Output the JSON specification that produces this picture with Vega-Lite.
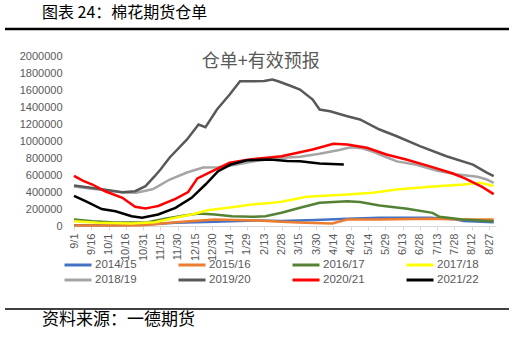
{
  "$schema": "https://vega.github.io/schema/vega-lite/v6.json",
  "width": 422,
  "height": 170,
  "autosize": {"type": "none"},
  "padding": {"left": 74, "top": 56, "right": 17, "bottom": 115},
  "background": "white",
  "config": {"view": {"stroke": null}, "font": "Liberation Sans"},
  "layer": [
    {
      "data": {"values": [{"part": "header"}]},
      "mark": {"type": "rule", "color": "#000000", "strokeWidth": 2.5},
      "encoding": {"x": {"value": -69}, "x2": {"value": 435}, "y": {"value": -27}}
    },
    {
      "data": {"values": [{"part": "footer"}]},
      "mark": {"type": "rule", "color": "#000000", "strokeWidth": 1.5},
      "encoding": {"x": {"value": -69}, "x2": {"value": 435}, "y": {"value": 253}, "y2": {"value": 253}}
    },
    {
      "data": {
        "values": [
          {"season": "2014/15", "day": 0, "value": 10000},
          {"season": "2014/15", "day": 30, "value": 10000},
          {"season": "2014/15", "day": 60, "value": 15000},
          {"season": "2014/15", "day": 88, "value": 38000},
          {"season": "2014/15", "day": 122, "value": 50000},
          {"season": "2014/15", "day": 160, "value": 65000},
          {"season": "2014/15", "day": 180, "value": 60000},
          {"season": "2014/15", "day": 210, "value": 70000},
          {"season": "2014/15", "day": 237, "value": 85000},
          {"season": "2014/15", "day": 265, "value": 96000},
          {"season": "2014/15", "day": 309, "value": 96000},
          {"season": "2014/15", "day": 330, "value": 80000},
          {"season": "2014/15", "day": 338, "value": 60000},
          {"season": "2014/15", "day": 364, "value": 45000},

          {"season": "2015/16", "day": 0, "value": 5000},
          {"season": "2015/16", "day": 30, "value": 5000},
          {"season": "2015/16", "day": 60, "value": 10000},
          {"season": "2015/16", "day": 88, "value": 45000},
          {"season": "2015/16", "day": 122, "value": 76000},
          {"season": "2015/16", "day": 160, "value": 65000},
          {"season": "2015/16", "day": 180, "value": 50000},
          {"season": "2015/16", "day": 200, "value": 38000},
          {"season": "2015/16", "day": 224, "value": 29000},
          {"season": "2015/16", "day": 237, "value": 76000},
          {"season": "2015/16", "day": 265, "value": 76000},
          {"season": "2015/16", "day": 309, "value": 85000},
          {"season": "2015/16", "day": 338, "value": 76000},
          {"season": "2015/16", "day": 364, "value": 76000},

          {"season": "2016/17", "day": 0, "value": 76000},
          {"season": "2016/17", "day": 16, "value": 56000},
          {"season": "2016/17", "day": 36, "value": 40000},
          {"season": "2016/17", "day": 64, "value": 45000},
          {"season": "2016/17", "day": 79, "value": 85000},
          {"season": "2016/17", "day": 96, "value": 124000},
          {"season": "2016/17", "day": 108, "value": 147000},
          {"season": "2016/17", "day": 122, "value": 135000},
          {"season": "2016/17", "day": 137, "value": 115000},
          {"season": "2016/17", "day": 154, "value": 108000},
          {"season": "2016/17", "day": 166, "value": 115000},
          {"season": "2016/17", "day": 180, "value": 155000},
          {"season": "2016/17", "day": 196, "value": 214000},
          {"season": "2016/17", "day": 213, "value": 273000},
          {"season": "2016/17", "day": 237, "value": 292000},
          {"season": "2016/17", "day": 248, "value": 282000},
          {"season": "2016/17", "day": 265, "value": 241000},
          {"season": "2016/17", "day": 289, "value": 202000},
          {"season": "2016/17", "day": 311, "value": 155000},
          {"season": "2016/17", "day": 317, "value": 108000},
          {"season": "2016/17", "day": 337, "value": 76000},
          {"season": "2016/17", "day": 364, "value": 56000},

          {"season": "2017/18", "day": 0, "value": 56000},
          {"season": "2017/18", "day": 21, "value": 38000},
          {"season": "2017/18", "day": 50, "value": 29000},
          {"season": "2017/18", "day": 70, "value": 45000},
          {"season": "2017/18", "day": 88, "value": 96000},
          {"season": "2017/18", "day": 102, "value": 135000},
          {"season": "2017/18", "day": 116, "value": 186000},
          {"season": "2017/18", "day": 137, "value": 221000},
          {"season": "2017/18", "day": 154, "value": 253000},
          {"season": "2017/18", "day": 172, "value": 273000},
          {"season": "2017/18", "day": 180, "value": 285000},
          {"season": "2017/18", "day": 202, "value": 343000},
          {"season": "2017/18", "day": 237, "value": 371000},
          {"season": "2017/18", "day": 259, "value": 390000},
          {"season": "2017/18", "day": 280, "value": 429000},
          {"season": "2017/18", "day": 309, "value": 461000},
          {"season": "2017/18", "day": 338, "value": 488000},
          {"season": "2017/18", "day": 352, "value": 510000},
          {"season": "2017/18", "day": 364, "value": 470000},

          {"season": "2018/19", "day": 0, "value": 465000},
          {"season": "2018/19", "day": 21, "value": 430000},
          {"season": "2018/19", "day": 42, "value": 395000},
          {"season": "2018/19", "day": 54, "value": 391000},
          {"season": "2018/19", "day": 68, "value": 432000},
          {"season": "2018/19", "day": 72, "value": 460000},
          {"season": "2018/19", "day": 83, "value": 547000},
          {"season": "2018/19", "day": 98, "value": 629000},
          {"season": "2018/19", "day": 112, "value": 688000},
          {"season": "2018/19", "day": 125, "value": 690000},
          {"season": "2018/19", "day": 140, "value": 720000},
          {"season": "2018/19", "day": 155, "value": 760000},
          {"season": "2018/19", "day": 178, "value": 800000},
          {"season": "2018/19", "day": 196, "value": 815000},
          {"season": "2018/19", "day": 213, "value": 850000},
          {"season": "2018/19", "day": 230, "value": 895000},
          {"season": "2018/19", "day": 240, "value": 925000},
          {"season": "2018/19", "day": 250, "value": 915000},
          {"season": "2018/19", "day": 260, "value": 870000},
          {"season": "2018/19", "day": 270, "value": 815000},
          {"season": "2018/19", "day": 280, "value": 760000},
          {"season": "2018/19", "day": 297, "value": 720000},
          {"season": "2018/19", "day": 315, "value": 650000},
          {"season": "2018/19", "day": 331, "value": 608000},
          {"season": "2018/19", "day": 350, "value": 579000},
          {"season": "2018/19", "day": 358, "value": 547000},
          {"season": "2018/19", "day": 364, "value": 508000},

          {"season": "2019/20", "day": 0, "value": 476000},
          {"season": "2019/20", "day": 21, "value": 438000},
          {"season": "2019/20", "day": 42, "value": 398000},
          {"season": "2019/20", "day": 53, "value": 409000},
          {"season": "2019/20", "day": 62, "value": 468000},
          {"season": "2019/20", "day": 70, "value": 586000},
          {"season": "2019/20", "day": 75, "value": 665000},
          {"season": "2019/20", "day": 83, "value": 806000},
          {"season": "2019/20", "day": 98, "value": 1018000},
          {"season": "2019/20", "day": 108, "value": 1194000},
          {"season": "2019/20", "day": 114, "value": 1162000},
          {"season": "2019/20", "day": 124, "value": 1370000},
          {"season": "2019/20", "day": 135, "value": 1547000},
          {"season": "2019/20", "day": 144, "value": 1703000},
          {"season": "2019/20", "day": 165, "value": 1705000},
          {"season": "2019/20", "day": 172, "value": 1724000},
          {"season": "2019/20", "day": 177, "value": 1703000},
          {"season": "2019/20", "day": 187, "value": 1653000},
          {"season": "2019/20", "day": 196, "value": 1606000},
          {"season": "2019/20", "day": 207, "value": 1488000},
          {"season": "2019/20", "day": 213, "value": 1370000},
          {"season": "2019/20", "day": 222, "value": 1350000},
          {"season": "2019/20", "day": 237, "value": 1292000},
          {"season": "2019/20", "day": 248, "value": 1253000},
          {"season": "2019/20", "day": 265, "value": 1135000},
          {"season": "2019/20", "day": 280, "value": 1056000},
          {"season": "2019/20", "day": 300, "value": 939000},
          {"season": "2019/20", "day": 323, "value": 821000},
          {"season": "2019/20", "day": 346, "value": 723000},
          {"season": "2019/20", "day": 358, "value": 629000},
          {"season": "2019/20", "day": 364, "value": 586000},

          {"season": "2020/21", "day": 0, "value": 590000},
          {"season": "2020/21", "day": 8, "value": 530000},
          {"season": "2020/21", "day": 16, "value": 488000},
          {"season": "2020/21", "day": 27, "value": 409000},
          {"season": "2020/21", "day": 42, "value": 332000},
          {"season": "2020/21", "day": 53, "value": 226000},
          {"season": "2020/21", "day": 62, "value": 205000},
          {"season": "2020/21", "day": 68, "value": 222000},
          {"season": "2020/21", "day": 73, "value": 235000},
          {"season": "2020/21", "day": 88, "value": 320000},
          {"season": "2020/21", "day": 99, "value": 400000},
          {"season": "2020/21", "day": 107, "value": 560000},
          {"season": "2020/21", "day": 120, "value": 645000},
          {"season": "2020/21", "day": 135, "value": 744000},
          {"season": "2020/21", "day": 152, "value": 782000},
          {"season": "2020/21", "day": 180, "value": 821000},
          {"season": "2020/21", "day": 207, "value": 900000},
          {"season": "2020/21", "day": 225, "value": 967000},
          {"season": "2020/21", "day": 237, "value": 959000},
          {"season": "2020/21", "day": 254, "value": 920000},
          {"season": "2020/21", "day": 271, "value": 841000},
          {"season": "2020/21", "day": 288, "value": 782000},
          {"season": "2020/21", "day": 308, "value": 704000},
          {"season": "2020/21", "day": 328, "value": 620000},
          {"season": "2020/21", "day": 339, "value": 560000},
          {"season": "2020/21", "day": 354, "value": 460000},
          {"season": "2020/21", "day": 364, "value": 375000},

          {"season": "2021/22", "day": 0, "value": 355000},
          {"season": "2021/22", "day": 10, "value": 292000},
          {"season": "2021/22", "day": 24, "value": 200000},
          {"season": "2021/22", "day": 36, "value": 174000},
          {"season": "2021/22", "day": 50, "value": 115000},
          {"season": "2021/22", "day": 59, "value": 96000},
          {"season": "2021/22", "day": 73, "value": 135000},
          {"season": "2021/22", "day": 88, "value": 214000},
          {"season": "2021/22", "day": 102, "value": 332000},
          {"season": "2021/22", "day": 114, "value": 488000},
          {"season": "2021/22", "day": 125, "value": 645000},
          {"season": "2021/22", "day": 136, "value": 723000},
          {"season": "2021/22", "day": 150, "value": 774000},
          {"season": "2021/22", "day": 170, "value": 782000},
          {"season": "2021/22", "day": 185, "value": 765000},
          {"season": "2021/22", "day": 196, "value": 762000},
          {"season": "2021/22", "day": 213, "value": 735000},
          {"season": "2021/22", "day": 234, "value": 723000}
        ]
      },
      "mark": {"type": "line", "strokeWidth": 2.5, "clip": false},
      "encoding": {
        "x": {
          "field": "day",
          "type": "quantitative",
          "scale": {"domain": [0, 366], "nice": false, "zero": false},
          "axis": {
            "values": [0, 15, 30, 45, 60, 75, 90, 105, 120, 135, 150, 165, 180, 195, 210, 225, 240, 255, 270, 285, 300, 315, 330, 345, 360],
            "tickCount": 40,
            "labelExpr": "timeFormat(datetime(2018, 8, 1 + datum.value), '%-m/%-d')",
            "title": null,
            "grid": false,
            "labelAngle": 270,
            "labelAlign": "right",
            "labelBaseline": "middle",
            "labelOverlap": false,
            "labelFontSize": 11,
            "labelColor": "#595959",
            "labelPadding": 3,
            "domainColor": "#D9D9D9",
            "tickColor": "#D9D9D9",
            "tickSize": 4
          }
        },
        "y": {
          "field": "value",
          "type": "quantitative",
          "scale": {"domain": [0, 2000000], "nice": false},
          "axis": {
            "values": [0, 200000, 400000, 600000, 800000, 1000000, 1200000, 1400000, 1600000, 1800000, 2000000],
            "tickCount": 20,
            "labelOverlap": false,
            "format": "d",
            "title": null,
            "grid": false,
            "domain": false,
            "ticks": false,
            "labelFontSize": 11,
            "labelColor": "#595959",
            "labelPadding": 12
          }
        },
        "color": {
          "field": "season",
          "type": "nominal",
          "scale": {
            "domain": ["2014/15", "2015/16", "2016/17", "2017/18", "2018/19", "2019/20", "2020/21", "2021/22"],
            "range": ["#4472C4", "#ED7D31", "#548235", "#FFFF00", "#A5A5A5", "#595959", "#FF0000", "#000000"]
          },
          "legend": {
            "orient": "none",
            "legendX": -11,
            "legendY": 203,
            "direction": "horizontal",
            "columns": 4,
            "title": null,
            "symbolType": "M-3,0H3",
            "symbolSize": 81,
            "symbolStrokeWidth": 3,
            "symbolOffset": 9,
            "labelFontSize": 11.5,
            "labelColor": "#595959",
            "labelOffset": 11,
            "columnPadding": 35,
            "rowPadding": 3
          }
        }
      }
    },
    {
      "data": {"values": [{"label": "仓单+有效预报"}]},
      "mark": {"type": "text", "font": "Noto Sans CJK SC", "fontSize": 18, "color": "#595959", "align": "center", "baseline": "middle"},
      "encoding": {
        "x": {"datum": 162, "type": "quantitative"},
        "y": {"datum": 1935000, "type": "quantitative"},
        "text": {"field": "label"}
      }
    },
    {
      "data": {"values": [{"label": "图表 24：棉花期货仓单"}]},
      "mark": {"type": "text", "font": "Noto Sans CJK SC", "fontSize": 16, "color": "#000000", "align": "left", "baseline": "middle"},
      "encoding": {
        "x": {"value": -32},
        "y": {"value": -43},
        "text": {"field": "label"}
      }
    },
    {
      "data": {"values": [{"label": "资料来源：一德期货"}]},
      "mark": {"type": "text", "font": "Noto Sans CJK SC", "fontSize": 17, "color": "#000000", "align": "left", "baseline": "middle"},
      "encoding": {
        "x": {"value": -32},
        "y": {"value": 264},
        "text": {"field": "label"}
      }
    }
  ]
}
